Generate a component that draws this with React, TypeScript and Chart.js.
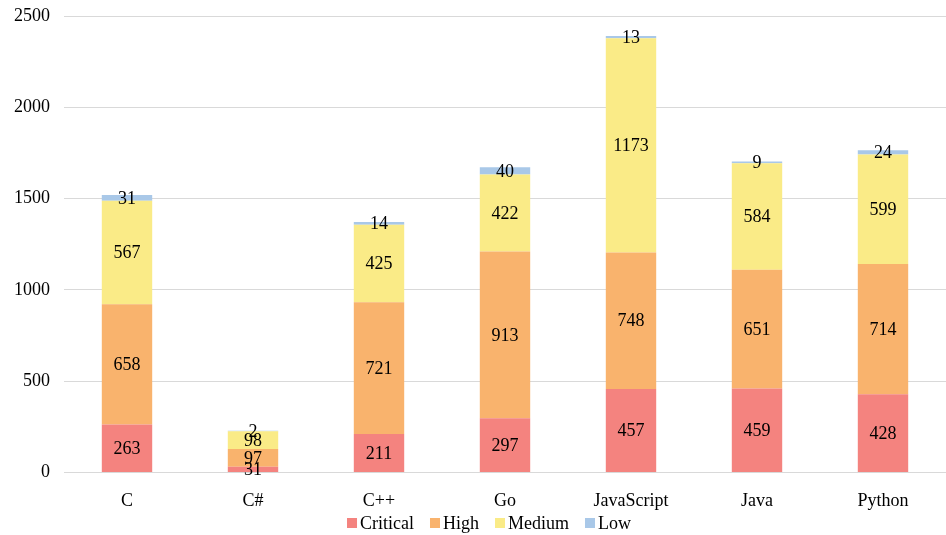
import React, { useEffect, useRef } from "react";
import { Chart, registerables } from "chart.js";

Chart.register(...registerables);

const categories = ["C", "C#", "C++", "Go", "JavaScript", "Java", "Python"];
const critical = [263, 31, 211, 297, 457, 459, 428];
const high = [658, 97, 721, 913, 748, 651, 714];
const medium = [567, 98, 425, 422, 1173, 584, 599];
const low = [31, 2, 14, 40, 13, 9, 24];
const yTicks = [0, 500, 1000, 1500, 2000, 2500];

const FONT = "'Liberation Serif', 'Times New Roman', serif";
const FONT_SIZE = 18;

// Writes each segment's value at the middle of its stacked bar piece.
const segmentLabels = {
  id: "segmentLabels",
  afterDatasetsDraw(chart: any) {
    const ctx = chart.ctx;
    ctx.save();
    ctx.font = `${FONT_SIZE}px ${FONT}`;
    ctx.fillStyle = "#000";
    ctx.textAlign = "center";
    ctx.textBaseline = "middle";
    chart.data.datasets.forEach((ds: any, di: number) => {
      const meta = chart.getDatasetMeta(di);
      meta.data.forEach((bar: any, i: number) => {
        const yMid = (bar.y + bar.base) / 2;
        ctx.fillText(String(ds.data[i]), bar.x, yMid + 1);
      });
    });
    ctx.restore();
  },
};

// Compact legend under the x axis: small square swatch, tight gap to the text.
const compactLegend = {
  id: "compactLegend",
  afterDraw(chart: any) {
    const ctx = chart.ctx;
    const box = 10;
    const gap = 3;
    const itemGap = 16;
    ctx.save();
    ctx.font = `${FONT_SIZE}px ${FONT}`;
    const items = chart.data.datasets.map((ds: any) => ({
      label: ds.label,
      color: ds.backgroundColor,
      w: ctx.measureText(ds.label).width,
    }));
    const total =
      items.reduce((s: number, it: any) => s + box + gap + it.w, 0) + itemGap * (items.length - 1);
    let x = chart.width / 2 + 16 - total / 2;
    const y = chart.height - 12;
    ctx.textBaseline = "middle";
    ctx.textAlign = "left";
    items.forEach((it: any) => {
      ctx.fillStyle = it.color;
      ctx.fillRect(x, y - box / 2, box, box);
      x += box + gap;
      ctx.fillStyle = "#000";
      ctx.fillText(it.label, x, y + 1);
      x += it.w + itemGap;
    });
    ctx.restore();
  },
};

export default function App() {
  const ref = useRef<HTMLCanvasElement>(null);

  useEffect(() => {
    if (!ref.current) return;
    const mk = (label: string, data: number[], color: string) => ({
      label,
      data,
      backgroundColor: color,
      borderWidth: 0,
      categoryPercentage: 1,
      barPercentage: 0.4,
    });
    const chart = new Chart(ref.current, {
      type: "bar",
      data: {
        labels: categories,
        datasets: [
          mk("Critical", critical, "#F4837F"),
          mk("High", high, "#F9B36D"),
          mk("Medium", medium, "#FAEB87"),
          mk("Low", low, "#A9C8E8"),
        ],
      },
      options: {
        animation: false,
        responsive: false,
        devicePixelRatio: 1,
        layout: { padding: { top: 16, right: 0, bottom: 13, left: 0 } },
        scales: {
          x: {
            stacked: true,
            grid: { display: false },
            border: { display: false },
            ticks: { color: "#000", font: { family: FONT, size: FONT_SIZE }, padding: 10 },
          },
          y: {
            stacked: true,
            min: 0,
            max: 2500,
            afterBuildTicks: (axis: any) => {
              axis.ticks = yTicks.map((v) => ({ value: v }));
            },
            afterFit: (axis: any) => {
              axis.paddingTop = 0;
            },
            grid: { color: "#d9d9d9", drawTicks: false },
            border: { display: false },
            ticks: {
              color: "#000",
              font: { family: FONT, size: FONT_SIZE },
              padding: 14,
              callback: (v: any) => String(v),
            },
          },
        },
        plugins: {
          legend: { display: false },
          tooltip: { enabled: false },
        },
      },
      plugins: [segmentLabels, compactLegend],
    });
    return () => chart.destroy();
  }, []);

  return (
    <div style={{ position: "fixed", left: 0, top: 0, width: 946, height: 535, background: "#fff" }}>
      <canvas ref={ref} width={946} height={535} />
    </div>
  );
}
